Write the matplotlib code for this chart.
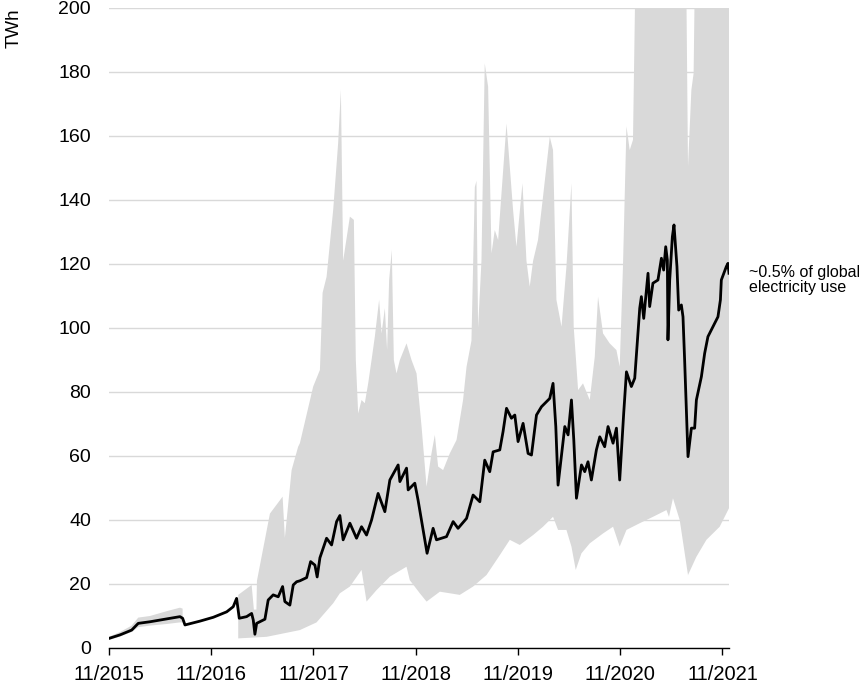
import numpy as np
import matplotlib
matplotlib.use("Agg")
import matplotlib.pyplot as plt

plt.rcParams['font.family'] = ['Liberation Sans', 'DejaVu Sans']

# ---- data (decimal year, TWh) ----
central_t = [2015.833, 2015.941, 2016.055, 2016.119, 2016.234, 2016.397, 2016.527, 2016.553,
             2016.576, 2016.723, 2016.853, 2016.984, 2017.048, 2017.081, 2017.107, 2017.179,
             2017.228, 2017.244, 2017.260, 2017.277, 2017.358, 2017.390, 2017.439, 2017.488,
             2017.531, 2017.553, 2017.602, 2017.635, 2017.668, 2017.700, 2017.766, 2017.805,
             2017.847, 2017.869, 2017.896, 2017.961, 2018.010, 2018.059, 2018.091, 2018.123,
             2018.189, 2018.254, 2018.303, 2018.352, 2018.401, 2018.465, 2018.531, 2018.580,
             2018.661, 2018.678, 2018.743, 2018.759, 2018.824, 2018.856, 2018.905, 2018.944,
             2019.003, 2019.036, 2019.134, 2019.199, 2019.247, 2019.330, 2019.394, 2019.460,
             2019.508, 2019.557, 2019.590, 2019.655, 2019.687, 2019.721, 2019.769, 2019.802,
             2019.834, 2019.883, 2019.932, 2019.965, 2020.014, 2020.063, 2020.144, 2020.176,
             2020.203, 2020.225, 2020.259, 2020.291, 2020.323, 2020.356, 2020.379, 2020.405,
             2020.454, 2020.486, 2020.518, 2020.551, 2020.600, 2020.633, 2020.681, 2020.714,
             2020.763, 2020.796, 2020.828, 2020.867, 2020.894, 2020.942, 2020.975, 2021.007,
             2021.024, 2021.040, 2021.063, 2021.105, 2021.121, 2021.153, 2021.202, 2021.236,
             2021.258, 2021.278, 2021.294, 2021.300, 2021.317, 2021.343, 2021.359, 2021.388,
             2021.405, 2021.431, 2021.447, 2021.463, 2021.496, 2021.529, 2021.561, 2021.578,
             2021.627, 2021.659, 2021.691, 2021.740, 2021.789, 2021.813, 2021.822, 2021.871,
             2021.887, 2021.897]
central_v = [3.0, 4.1, 5.6, 7.7, 8.2, 9.1, 9.8, 9.3,
             7.2, 8.4, 9.6, 11.3, 12.9, 15.5, 9.3, 9.8,
             10.8, 8.75, 4.3, 7.7, 9.0, 15.0, 16.6, 16.0,
             19.2, 14.5, 13.4, 19.7, 20.7, 21.0, 22.0, 27.0,
             25.9, 22.2, 28.2, 34.3, 32.2, 39.5, 41.4, 33.8,
             39.0, 34.3, 37.9, 35.3, 40.0, 48.3, 42.6, 52.5,
             57.2, 52.0, 56.2, 49.4, 51.5, 46.2, 36.9, 29.6,
             37.4, 33.8, 34.8, 39.5, 37.4, 40.5, 47.8, 45.7,
             58.7, 55.1, 61.3, 61.9, 67.6, 74.9, 71.8, 72.8,
             64.5, 70.2, 60.8, 60.3, 72.8, 75.4, 78.0, 82.7,
             69.2, 50.9, 60.3, 69.2, 66.6, 77.5, 65.0, 46.8,
             57.2, 55.1, 58.2, 52.5, 61.9, 66.0, 62.9, 69.2,
             64.0, 68.7, 52.5, 73.3, 86.3, 81.7, 84.3, 98.3,
             106.2, 109.8, 103.0, 117.1, 106.7, 114.0, 115.0, 121.8,
             118.1, 125.4, 121.2, 96.3, 115.0, 128.5, 132.2, 119.2,
             105.6, 107.2, 103.5, 90.0, 59.8, 68.7, 68.7, 77.5,
             84.8, 92.1, 97.3, 100.4, 103.5, 108.8, 115.0, 119.2,
             120.2, 117.1]

# early uncertainty band (11/2015 - 7/2016)
early_t = [2015.833, 2015.941, 2016.055, 2016.119, 2016.234, 2016.397, 2016.527, 2016.553]
early_upper = [3.5, 5.0, 7.0, 9.5, 10.0, 11.5, 12.6, 12.3]
early_lower = [2.5, 3.6, 5.0, 6.5, 7.0, 7.5, 8.0, 8.0]

# main uncertainty band (from 2/2017)
upper_t = [2017.097, 2017.228, 2017.250, 2017.275, 2017.280, 2017.407, 2017.531, 2017.553,
           2017.619, 2017.683, 2017.700, 2017.830, 2017.896, 2017.922, 2017.961, 2018.026,
           2018.074, 2018.101, 2018.123, 2018.189, 2018.228, 2018.247, 2018.270, 2018.303,
           2018.335, 2018.368, 2018.401, 2018.433, 2018.475, 2018.499, 2018.531, 2018.553,
           2018.573, 2018.599, 2018.619, 2018.645, 2018.678, 2018.743, 2018.792, 2018.841,
           2018.890, 2018.939, 2018.987, 2019.020, 2019.052, 2019.101, 2019.166, 2019.232,
           2019.296, 2019.330, 2019.378, 2019.411, 2019.427, 2019.443, 2019.476, 2019.508,
           2019.541, 2019.574, 2019.606, 2019.639, 2019.721, 2019.785, 2019.818, 2019.877,
           2019.916, 2019.948, 2019.981, 2020.029, 2020.078, 2020.144, 2020.176, 2020.209,
           2020.259, 2020.307, 2020.356, 2020.378, 2020.421, 2020.469, 2020.535, 2020.584,
           2020.616, 2020.665, 2020.730, 2020.796, 2020.828, 2020.860, 2020.894, 2020.926,
           2020.958, 2020.991, 2021.473, 2021.496, 2021.529, 2021.551, 2021.571, 2021.897]
upper_v = [16.6, 19.7, 12.0, 12.0, 21.0, 42.0, 47.3, 34.4,
           55.6, 62.9, 64.0, 81.7, 86.9, 111.0, 116.0, 137.0,
           157.7, 174.4, 121.0, 134.8, 133.8, 90.0, 73.3, 77.5,
           76.5, 82.7, 90.0, 97.3, 108.8, 98.3, 106.2, 93.1,
           115.0, 124.4, 90.0, 85.8, 90.0, 95.2, 90.0, 85.8,
           69.2, 50.4, 60.8, 66.6, 56.7, 55.6, 60.8, 65.0,
           77.5, 87.9, 96.0, 144.0, 146.0, 100.0, 121.0, 182.7,
           175.4, 123.3, 130.6, 127.5, 163.9, 136.9, 125.4, 145.2,
           121.0, 112.9, 121.0, 127.5, 141.0, 159.8, 155.6, 108.8,
           100.4, 119.2, 145.2, 100.4, 80.6, 82.7, 77.5, 91.0,
           109.8, 98.3, 95.2, 93.1, 87.9, 119.2, 163.0, 155.6,
           158.8, 230.0, 230.0, 150.4, 174.4, 179.6, 230.0, 230.0]

lower_t = [2017.097, 2017.375, 2017.700, 2017.863, 2018.026, 2018.091, 2018.189, 2018.303,
           2018.352, 2018.450, 2018.580, 2018.743, 2018.775, 2018.873, 2018.939, 2019.069,
           2019.264, 2019.394, 2019.525, 2019.655, 2019.753, 2019.851, 2019.981, 2020.078,
           2020.176, 2020.225, 2020.307, 2020.356, 2020.398, 2020.454, 2020.535, 2020.665,
           2020.763, 2020.828, 2020.894, 2021.024, 2021.154, 2021.285, 2021.310, 2021.349,
           2021.415, 2021.496, 2021.578, 2021.676, 2021.806, 2021.897]
lower_v = [3.0, 3.5, 5.6, 8.0, 14.0, 17.1, 19.2, 24.4,
           14.5, 18.1, 22.3, 25.4, 21.2, 17.1, 14.5, 17.6,
           16.6, 19.2, 22.8, 29.0, 33.8, 32.2, 35.3, 37.9,
           41.0, 36.9, 36.9, 31.7, 24.4, 29.6, 32.7, 35.8,
           37.9, 31.7, 36.9, 39.0, 41.0, 43.1, 41.0, 46.8,
           40.0, 22.8, 28.5, 33.8, 37.9, 43.7]

tick_pos = [2015.833, 2016.833, 2017.833, 2018.833, 2019.833, 2020.833, 2021.833]
tick_labels = ['11/2015', '11/2016', '11/2017', '11/2018', '11/2019', '11/2020', '11/2021']
y_ticks = [0, 20, 40, 60, 80, 100, 120, 140, 160, 180, 200]

# ---- figure ----
fig = plt.figure(figsize=(8.59, 6.87), dpi=100)
ax = fig.add_axes([109 / 859, 39 / 687, 620 / 859, 640 / 687])

band_color = '#d9d9d9'
ax.fill(np.concatenate([early_t, early_t[::-1]]),
        np.concatenate([early_upper, early_lower[::-1]]),
        color=band_color, lw=0, zorder=1)
ax.fill(np.concatenate([upper_t, lower_t[::-1]]),
        np.concatenate([upper_v, lower_v[::-1]]),
        color=band_color, lw=0, zorder=1)
ax.plot(central_t, central_v, color='black', lw=2.0, zorder=3)

ax.set_xlim(2015.833, 2021.897)
ax.set_ylim(0, 200)
ax.set_yticks(y_ticks)
ax.set_xticks(tick_pos)
ax.set_xticklabels(tick_labels)
ax.yaxis.grid(True, color='#d9d9d9', lw=1.0, zorder=0)
ax.set_axisbelow(True)
for s in ['left', 'right', 'top']:
    ax.spines[s].set_visible(False)
ax.spines['bottom'].set_color('black')
ax.spines['bottom'].set_linewidth(1.0)
ax.spines['bottom'].set_zorder(4)
ax.tick_params(axis='y', length=0, pad=13, labelsize=14)
ax.tick_params(axis='x', length=5, width=1, color='black', pad=7, labelsize=14.5)

fig.text(14 / 859, 1 - 28 / 687, 'TWh', rotation=90, ha='center', va='center', fontsize=13.5)
fig.text(749 / 859, 1 - 280 / 687, '~0.5% of global\nelectricity use',
         ha='left', va='center', fontsize=11.5, linespacing=1.05)

fig.savefig('out.png', dpi=100)
